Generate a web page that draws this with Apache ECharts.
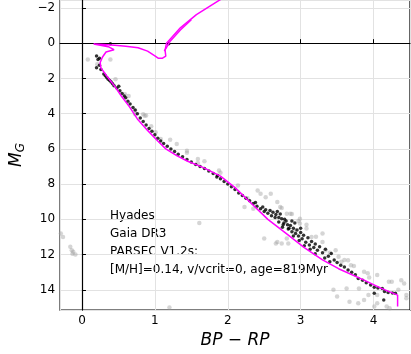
<!DOCTYPE html>
<html>
<head>
<meta charset="utf-8">
<script src="https://cdn.jsdelivr.net/npm/echarts@6/dist/echarts.min.js"></script>
<style>
html,body{margin:0;padding:0;background:#fff;}
#chart{width:411px;height:354px;}
</style>
</head>
<body>
<div id="chart"></div>
<script>
// PARSEC isochrone, main sequence -> turn-off -> RGB (BP-RP, M_G)
var isoMain = [
  [4.33,14.95],[4.33,14.3],[4.1,13.9],[3.87,13.45],[3.52,12.8],[3.3,12.3],[3.05,11.6],
  [2.8,10.8],[2.55,10.0],[2.3,9.0],[2.1,8.2],[1.9,7.55],[1.66,7.05],[1.45,6.7],[1.3,6.38],
  [1.15,6.0],[1.04,5.55],[0.9,4.95],[0.76,4.3],[0.65,3.6],[0.54,3.0],[0.45,2.45],[0.34,1.86],
  [0.26,1.4],[0.25,1.1],[0.28,0.8],[0.33,0.5],[0.44,0.37],[0.36,0.2],[0.16,0.05],[0.3,0.08],
  [0.45,0.12],[0.6,0.17],[0.77,0.26],[0.9,0.45],[1.0,0.72],[1.05,0.86],[1.1,0.86],[1.15,0.73],
  [1.14,0.4],[1.16,0.0],[1.35,-0.87],[1.57,-1.62],[1.75,-2.09],[1.87,-2.4],[1.95,-2.6]
];
// clump / AGB part
var isoAgb = [[1.13,0.45],[1.17,0.17],[1.21,-0.11],[1.35,-0.75],[1.5,-1.33]];

// Gaia stars not selected (grey)
var field = [
  [0.08,0.92],[0.39,0.92],[0.21,1.2],[0.46,2.05],[0.59,2.9],[0.64,3.0],[0.73,3.84],[0.73,4.03],
  [0.84,4.03],[0.86,4.12],[0.88,4.1],[0.95,4.72],[1.01,5.06],[1.08,5.44],[1.21,5.48],[1.3,5.72],
  [1.44,6.1],[1.44,6.22],[1.59,6.57],[1.59,6.8],[1.68,6.7],[1.88,7.23],[1.9,7.35],[2.14,8.08],
  [2.41,8.36],[2.45,8.55],[2.52,8.74],[2.59,8.55],[2.27,8.8],[2.23,9.3],[2.35,9.4],[1.61,10.2],
  [2.5,11.09],[1.2,15.0],[-0.29,10.8],[-0.26,11.0],[-0.16,11.56],[-0.14,11.75],[-0.12,11.84],
  [-0.09,12.0],[-0.13,11.95],[2.68,9.02],[2.72,9.3],[2.74,9.35],[2.81,9.68],[2.86,9.68],[2.88,9.7],
  [2.99,9.96],[2.97,10.1],[3.08,10.3],[2.68,11.28],[2.74,11.37],[2.83,11.37],[2.66,11.37],
  [2.81,11.09],[2.92,10.62],[2.99,10.24],[3.08,10.52],[3.21,10.99],[3.3,11.28],[3.3,10.8],
  [3.34,11.75],[3.48,11.75],[3.52,12.12],[3.65,12.32],[3.69,12.6],[3.73,12.65],[3.87,12.97],
  [3.92,13.06],[3.94,13.3],[4.05,13.16],[4.21,13.54],[4.25,13.54],[4.38,13.45],[4.42,13.64],
  [4.34,14.0],[4.45,14.29],[4.45,14.48],[3.45,14.0],[3.5,14.38],[3.67,14.67],[3.63,13.92],
  [3.79,14.76],[3.8,13.92],[3.87,14.58],[3.93,14.3],[4.01,14.95],[4.05,14.76],[4.18,14.95],
  [4.22,15.05],[4.05,14.3],[3.15,11.0],[3.4,11.9],[3.56,12.4],[3.6,12.3]
];

// Hyades members (black)
var members = [
  [0.39,0.03],[1.19,0.03],[0.2,0.73],[0.22,0.92],[0.24,0.85],[0.2,1.39],[0.26,1.49],[0.24,1.25],
  [0.3,1.75],[0.32,1.85],[0.34,1.95],[0.36,2.05],[0.38,2.12],[0.4,2.2],[0.42,2.3],[0.44,2.42],
  [0.48,2.55],[0.505,2.45],[0.52,2.7],[0.55,2.85],[0.58,3.0],[0.6,3.1],[0.63,3.3],[0.66,3.45],
  [0.7,3.65],[0.73,3.8],[0.76,4.0],[0.8,4.25],[0.84,4.45],[0.88,4.65],[0.92,4.85],[0.96,5.0],
  [1.0,5.2],[1.04,5.4],[1.08,5.55],[1.12,5.7],[1.17,5.85],[1.22,6.0],[1.27,6.15],[1.32,6.3],
  [1.38,6.45],[1.44,6.6],[1.5,6.75],[1.56,6.88],[1.62,7.0],[1.68,7.12],[1.74,7.25],[1.8,7.4],
  [1.86,7.51],[1.85,7.6],[1.9,7.7],[1.95,7.85],[2.0,8.0],[2.05,8.15],[2.1,8.3],[2.15,8.5],
  [2.2,8.65],[2.25,8.8],[2.3,8.95],[2.35,9.1],[2.38,9.05],[2.4,9.25],[2.45,9.4],[2.48,9.3],
  [2.5,9.55],[2.52,9.45],[2.55,9.65],[2.58,9.5],[2.6,9.8],[2.62,9.6],[2.66,9.73],[2.68,9.55],
  [2.7,9.9],[2.72,9.7],[2.74,9.96],[2.76,10.3],[2.77,10.2],[2.8,10.1],[2.82,10.3],[2.84,10.5],
  [2.86,10.35],[2.88,10.7],[2.9,10.5],[2.92,10.2],[2.93,10.8],[2.95,10.6],[2.97,10.95],[3.0,10.75],
  [3.02,11.1],[3.04,10.9],[3.07,11.3],[3.1,11.05],[3.12,11.45],[3.15,11.25],[3.18,11.6],[3.2,11.4],
  [3.23,11.75],[3.26,11.55],[3.3,11.9],[3.34,11.7],[3.38,12.1],[3.42,11.94],[3.46,12.3],[3.5,12.45],
  [3.55,12.6],[3.6,12.7],[3.65,12.88],[3.7,13.0],[3.75,13.15],[3.79,13.35],[3.85,13.45],[3.9,13.6],
  [3.96,13.73],[4.01,13.85],[4.06,13.9],[4.12,13.92],[4.15,14.1],[4.2,14.15],[4.26,14.18],[4.3,14.2],
  [4.01,14.2],[4.14,14.58],[2.65,9.9],[2.7,10.15],[2.78,10.0],[2.83,10.55],[2.9,10.95],[2.98,11.2],
  [3.05,11.5],[2.75,10.45],[2.88,10.1],[3.0,10.5],[3.13,11.7],[3.2,11.95],[3.33,12.2],[3.4,12.4]
];

var notes = ['Hyades', 'Gaia DR3', 'PARSEC V1.2s:', '[M/H]=0.14, v/vcrit=0, age=819Myr'];

var font = 'DejaVu Sans';
var chart = echarts.init(document.getElementById('chart'));

chart.setOption({
  animation: false,
  grid: {left: 49, right: 1, top: 0, bottom: 43, show: true, borderColor: '#000', borderWidth: 1.2},
  xAxis: {
    type: 'value', min: -0.3, max: 4.5, splitNumber: 5,
    name: 'BP \u2212 RP', nameLocation: 'middle', nameGap: 16,
    nameTextStyle: {fontFamily: font, fontStyle: 'italic', fontSize: 17, color: '#000'},
    axisLine: {lineStyle: {color: '#000', width: 1.2}},
    axisTick: {inside: true, length: 4, lineStyle: {color: '#000'}},
    axisLabel: {showMinLabel: false, showMaxLabel: false, margin: 5, fontFamily: font, fontSize: 12, color: '#000'},
    splitLine: {show: true, lineStyle: {color: '#e2e2e2', width: 1}}
  },
  yAxis: {
    type: 'value', inverse: true, min: -2.45, max: 15.15, splitNumber: 9,
    name: '{m|M}{g|G}', nameLocation: 'middle', nameGap: 26, nameRotate: 90,
    nameTextStyle: {
      rich: {
        m: {fontFamily: font, fontStyle: 'italic', fontSize: 17, color: '#000'},
        g: {fontFamily: font, fontStyle: 'italic', fontSize: 12, color: '#000', verticalAlign: 'bottom', padding: [8, 0, 0, 0]}
      }
    },
    axisLine: {lineStyle: {color: '#000', width: 1.2}},
    axisTick: {inside: true, length: 4, lineStyle: {color: '#000'}},
    axisLabel: {
      showMinLabel: false, showMaxLabel: false, margin: 5, fontFamily: font, fontSize: 12, color: '#000',
      formatter: function(v){ return v < 0 ? '\u2212' + Math.abs(v) : String(v); }
    },
    splitLine: {show: true, lineStyle: {color: '#e2e2e2', width: 1}}
  },
  graphic: [{
    type: 'text', left: 110, top: 207,
    style: {text: notes.join('\n'), fontFamily: font, fontSize: 12, lineHeight: 18, fill: '#000'}
  }],
  series: [
    {type: 'scatter', data: field, symbolSize: 4.5, itemStyle: {color: 'rgba(160,160,160,0.55)'}, z: 2},
    {type: 'scatter', data: members, symbolSize: 3.5, itemStyle: {color: '#000'}, z: 3},
    {type: 'line', data: isoMain, showSymbol: false, symbol: 'none', clip: true,
     lineStyle: {color: '#ff00ff', width: 1.5}, z: 4},
    {type: 'line', data: isoAgb, showSymbol: false, symbol: 'none', clip: true,
     lineStyle: {color: '#ff00ff', width: 1.5}, z: 4}
  ]
});
</script>
</body>
</html>
